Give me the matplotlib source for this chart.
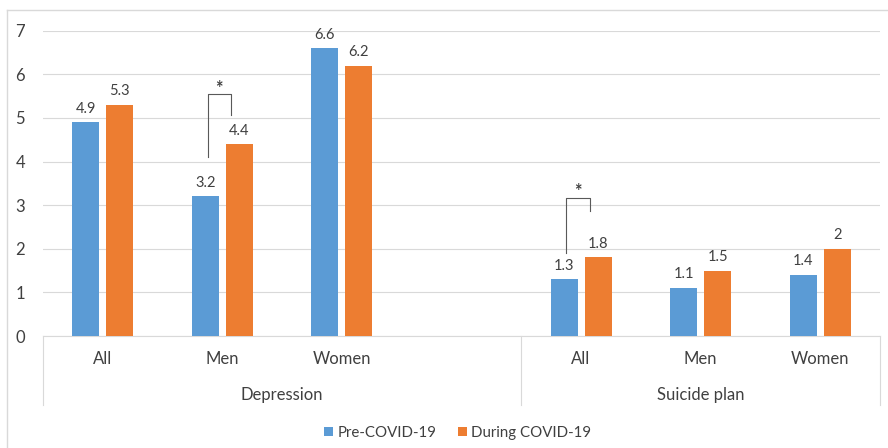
import matplotlib
matplotlib.use("Agg")
import matplotlib.pyplot as plt
import matplotlib.transforms as mtransforms
from matplotlib.patches import Patch
from matplotlib.lines import Line2D

plt.rcParams['font.family'] = ['Lato', 'DejaVu Sans']

categories = ["All", "Men", "Women", "", "All", "Men", "Women"]
groups = ["Depression", "Suicide plan"]
pre_covid = [4.9, 3.2, 6.6, None, 1.3, 1.1, 1.4]
during_covid = [5.3, 4.4, 6.2, None, 1.8, 1.5, 2.0]
pre_labels = ["4.9", "3.2", "6.6", "", "1.3", "1.1", "1.4"]
during_labels = ["5.3", "4.4", "6.2", "", "1.8", "1.5", "2"]
series_names = ["Pre-COVID-19", "During COVID-19"]
yticks = [0, 1, 2, 3, 4, 5, 6, 7]

BLUE = "#5B9BD5"
ORANGE = "#ED7D31"
TXT = "#404040"
GRID = "#D9D9D9"

W, H = 888, 448
fig = plt.figure(figsize=(W / 100, H / 100), dpi=100)
ax = fig.add_axes([43 / W, 1 - 336 / H, (880 - 43) / W, (336 - 30.7) / H])

bw = 0.226
off = 0.142
xs = list(range(len(categories)))
for i in xs:
    if pre_covid[i] is not None:
        ax.bar(i - off, pre_covid[i], width=bw, color=BLUE, zorder=3)
        ax.text(i - off, pre_covid[i] + 0.15, pre_labels[i], ha="center", va="bottom",
                fontsize=10.5, color=TXT)
    if during_covid[i] is not None:
        ax.bar(i + off, during_covid[i], width=bw, color=ORANGE, zorder=3)
        ax.text(i + off, during_covid[i] + 0.15, during_labels[i], ha="center", va="bottom",
                fontsize=10.5, color=TXT)

ax.set_xlim(-0.5, len(categories) - 0.5)
ax.set_ylim(0, 7)
ax.set_yticks(yticks)
ax.set_yticklabels([str(t) for t in yticks], fontsize=12, color=TXT)
ax.set_xticks(xs)
ax.set_xticklabels(categories, fontsize=12, color=TXT)
ax.tick_params(axis="both", length=0)
ax.tick_params(axis="x", pad=11)
ax.tick_params(axis="y", pad=13)
ax.grid(axis="y", color=GRID, linewidth=0.8, zorder=0)
for s in ["top", "right", "left"]:
    ax.spines[s].set_visible(False)
ax.spines["bottom"].set_color(GRID)

trans = mtransforms.blended_transform_factory(ax.transData, ax.transAxes)
ybot = (336 - 405) / (336 - 30.7)
for xv in [-0.5, 3.5, 6.5]:
    ax.add_line(Line2D([xv, xv], [0, ybot], transform=trans, color=GRID,
                       linewidth=0.8, clip_on=False))
ygl = (336 - 395) / (336 - 30.7)
ax.text(1.5, ygl, groups[0], transform=trans, ha="center", va="center", fontsize=12, color=TXT)
ax.text(5.0, ygl, groups[1], transform=trans, ha="center", va="center", fontsize=12, color=TXT)

# significance brackets
def bracket(i, top, lbottom, rbottom):
    xl = i - off + 0.02
    xr = i + off - 0.07
    ax.plot([xl, xl, xr, xr], [lbottom, top, top, rbottom], color="#595959",
            linewidth=0.8, zorder=4)
    ax.text((xl + xr) / 2, top - 0.05, "*", ha="center", va="bottom", fontsize=13,
            fontweight="bold", color=TXT)

bracket(1, 5.54, 4.10, 5.06)
bracket(4, 3.16, 1.90, 2.86)

# outer frame (top and left lines)
fig.add_artist(Line2D([7 / W, 1], [1 - 10 / H, 1 - 10 / H], transform=fig.transFigure,
                      color=GRID, linewidth=1))
fig.add_artist(Line2D([7 / W, 7 / W], [0, 1 - 10 / H], transform=fig.transFigure,
                      color=GRID, linewidth=1))

handles = [Patch(facecolor=BLUE, label=series_names[0]),
           Patch(facecolor=ORANGE, label=series_names[1])]
fig.legend(handles=handles, loc="center", bbox_to_anchor=(458 / W, 1 - 433 / H), ncol=2,
           frameon=False, fontsize=10.8, handlelength=0.6, handleheight=0.6,
           handletextpad=0.3, columnspacing=1.4, labelcolor=TXT)

fig.savefig("out.png", dpi=100)
